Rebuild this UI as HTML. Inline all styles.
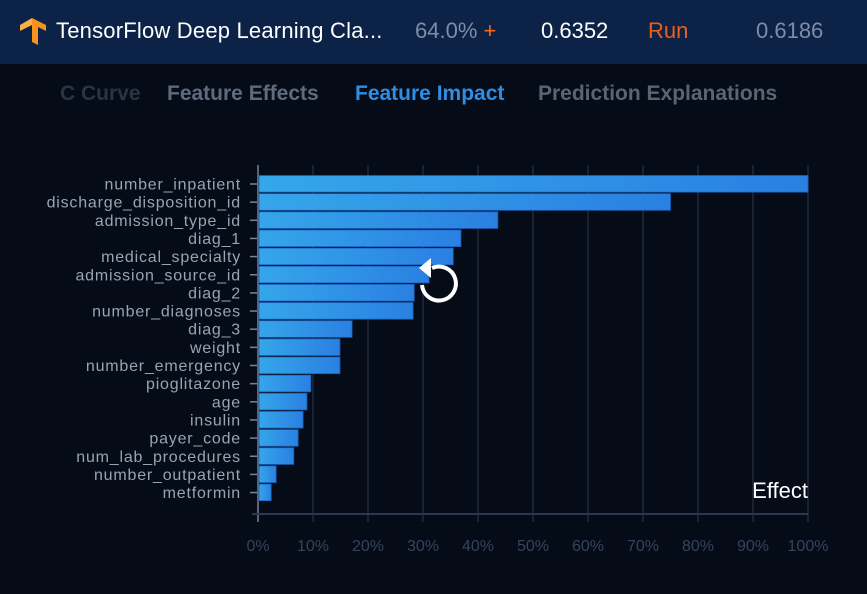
<!DOCTYPE html>
<html><head><meta charset="utf-8"><style>
body{margin:0;width:867px;height:594px;background:#050c18;overflow:hidden;font-family:"Liberation Sans",sans-serif}
#hdr{position:absolute;left:0;top:0;width:867px;height:64px;background:#0c2246}
.t{position:absolute;white-space:nowrap}
</style></head><body>
<div id="hdr">
<svg class="t" style="left:20px;top:18px" width="26" height="28"><path d="M12 0 L26 7 L26 13 L18 9 L18 27 L12 24 Z" fill="#f7931e"/><path d="M12 0 L0 7 L0 13 L12 7Z" fill="#fbb040"/></svg>
<div class="t" style="left:56px;top:18px;font-size:22px;letter-spacing:0.2px;color:#fff">TensorFlow Deep Learning Cla...</div>
<div class="t" style="left:415px;top:18px;font-size:22px;color:#7d8ca8">64.0% <span style="color:#f26b1d">+</span></div>
<div class="t" style="left:541px;top:18px;font-size:22px;color:#fff">0.6352</div>
<div class="t" style="left:648px;top:18px;font-size:22px;color:#e8601c">Run</div>
<div class="t" style="left:756px;top:18px;font-size:22px;color:#7d8ca8">0.6186</div>
</div>
<div class="t" style="left:60px;top:82px;font-size:21px;color:#2a3445;font-weight:bold">C Curve</div>
<div class="t" style="left:167px;top:82px;font-size:21px;color:#5f6b7c;font-weight:bold">Feature Effects</div>
<div class="t" style="left:355px;top:82px;font-size:21px;color:#2f8de4;font-weight:bold">Feature Impact</div>
<div class="t" style="left:538px;top:82px;font-size:21px;color:#5a6474;font-weight:bold">Prediction Explanations</div>
<svg id="chart" width="867" height="594" style="position:absolute;left:0;top:0">
<defs><linearGradient id="g" x1="0" x2="1"><stop offset="0" stop-color="#35a6ea"/><stop offset="1" stop-color="#2a80e2"/></linearGradient></defs>
</svg>
<script>
const features=["number_inpatient","discharge_disposition_id","admission_type_id","diag_1","medical_specialty","admission_source_id","diag_2","number_diagnoses","diag_3","weight","number_emergency","pioglitazone","age","insulin","payer_code","num_lab_procedures","number_outpatient","metformin"];
const effects=[100,75,43.6,36.9,35.5,31.1,28.4,28.2,17.1,14.9,14.9,9.6,8.9,8.2,7.3,6.5,3.3,2.4];
const ticks=[0,10,20,30,40,50,60,70,80,90,100];
const NS="http://www.w3.org/2000/svg";
const svg=document.getElementById('chart');
const x0=258,x1=808,yTop=175.5,step=18.15;
const X=v=>x0+(x1-x0)*v/100;
const Y=i=>yTop+i*step;
function mk(t,a,p){const e=document.createElementNS(NS,t);for(const k in a)e.setAttribute(k,a[k]);(p||svg).appendChild(e);return e;}
ticks.forEach(t=>{
 const l=mk('line',{x1:X(t),x2:X(t),y1:165,y2:522,stroke:t===0?'#5a6678':'#1f2a3d','stroke-width':t===0?2:1.5});
 
 
 const tx=mk('text',{x:X(t),y:551,'text-anchor':'middle','font-size':16,fill:'#36435c','font-family':'Liberation Sans'});
 tx.textContent=t+'%';
 
 
});
const ax=mk('line',{x1:252,x2:x1,y1:514,y2:514,stroke:'#2c3850','stroke-width':2});


features.forEach((f,i)=>{
 const y=Y(i);
 const r=mk('rect',{x:x0+1,y:y,width:X(effects[i])-x0-1,height:step-1.5,fill:'url(#g)',stroke:'#1a5fb8','stroke-width':0.8});
 
 
 mk('line',{x1:250,x2:257,y1:y+8.5,y2:y+8.5,stroke:'#7a8496','stroke-width':1.5});
 const t=mk('text',{x:241,y:y+14,'text-anchor':'end','font-size':16,'letter-spacing':0.8,fill:'#9aa3b2','font-family':'Liberation Sans'});
 t.textContent=f;
 
 
});
const ef=mk('text',{x:808,y:498,'text-anchor':'end','font-size':22,fill:'#fff','font-family':'Liberation Sans'});
ef.textContent='Effect';


const ic=mk('g',{});


mk('path',{d:'M422 285 A 17 17 0 1 0 432 268',fill:'none',stroke:'#fff','stroke-width':4},ic);
mk('path',{d:'M419 268 L431 258 L431 278 Z',fill:'#fff'},ic);
</script>
</body></html>
